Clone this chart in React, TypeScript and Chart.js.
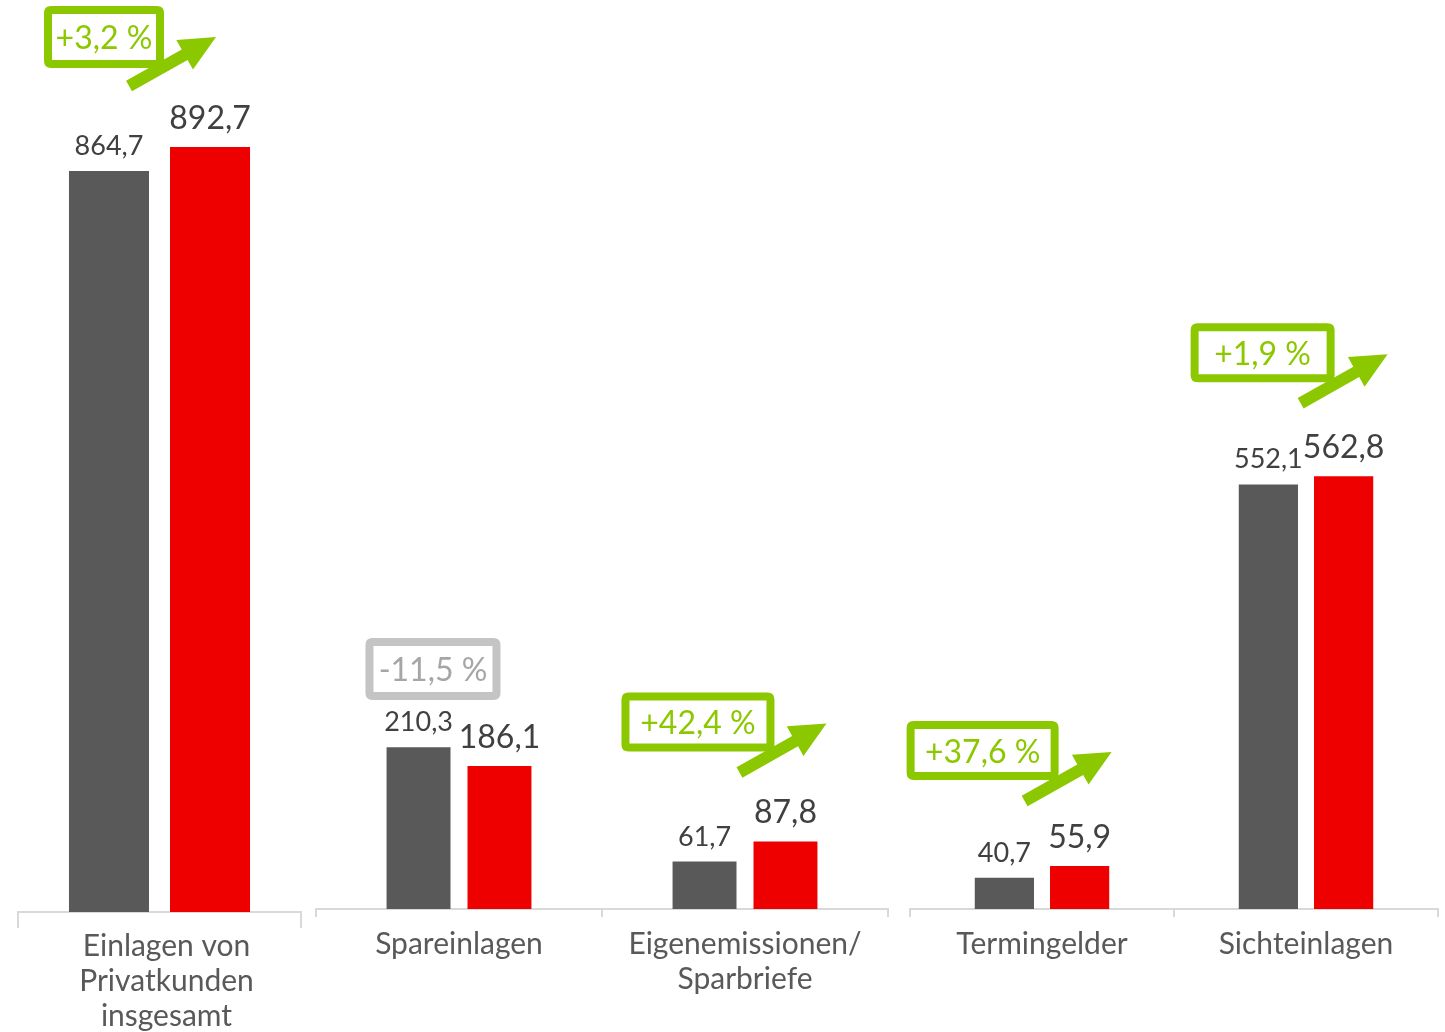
import React, { useEffect, useRef } from "react";
import { Chart, registerables } from "chart.js";

Chart.register(...registerables);

// ---------- data ----------
const categoryLabels: string[][] = [
  ["Einlagen von", "Privatkunden", "insgesamt"],
  ["Spareinlagen"],
  ["Eigenemissionen/", "Sparbriefe"],
  ["Termingelder"],
  ["Sichteinlagen"],
];
const previousValues = [864.7, 210.3, 61.7, 40.7, 552.1];
const currentValues = [892.7, 186.1, 87.8, 55.9, 562.8];
const changeLabels = ["+3,2 %", "-11,5 %", "+42,4 %", "+37,6 %", "+1,9 %"];
const changeIsUp = [true, false, true, true, true];

// ---------- styles / layout ----------
const FONT = "Lato, 'Noto Sans', sans-serif";
const GREY = "#595959";
const RED = "#EE0000";
const GREEN = "#8CC800";
const BOX_GREY = "#C4C4C4";
const BOX_GREY_TEXT = "#A6A6A6";
const TEXT = "#404040";
const LABEL = "#595959";
const AXIS = "#D9D9D9";

// annotation layout relative to the red bar's top-center (box x/y offsets, size, arrow tail offset)
const annotationLayout = [
  { bx: -166, by: -141, w: 120, h: 62, ax: -81, ay: -61 },
  { bx: -134, by: -128, w: 135, h: 62, ax: 0, ay: 0 },
  { bx: -164, by: -149, w: 153, h: 59, ax: -46, ay: -69 },
  { bx: -173, by: -145, w: 152, h: 59, ax: -55, ay: -65 },
  { bx: -153, by: -153, w: 144, h: 59, ax: -43, ay: -73 },
];

const panels = [
  { idx: [0], left: 0, width: 320, padL: 18, padR: 19, padT: 20, bottom: 912, yMax: 1041, cp: 0.714, bp: 0.792, tickLen: 16, tickPad: 1, labelOffset: 7 },
  { idx: [1, 2], left: 300, width: 600, padL: 16, padR: 12, padT: 20, bottom: 909, yMax: 1156, cp: 0.566, bp: 0.79, tickLen: 8, tickPad: 10, labelOffset: 0 },
  { idx: [3, 4], left: 895, width: 550, padL: 15, padR: 7, padT: 20, bottom: 909, yMax: 1156, cp: 0.57, bp: 0.787, tickLen: 8, tickPad: 10, labelOffset: 0 },
];

const H = 1032;
const fmt = (v: number) => v.toFixed(1).replace(".", ",");

function roundRect(ctx: CanvasRenderingContext2D, x: number, y: number, w: number, h: number, r: number) {
  ctx.beginPath();
  ctx.moveTo(x + r, y);
  ctx.lineTo(x + w - r, y);
  ctx.quadraticCurveTo(x + w, y, x + w, y + r);
  ctx.lineTo(x + w, y + h - r);
  ctx.quadraticCurveTo(x + w, y + h, x + w - r, y + h);
  ctx.lineTo(x + r, y + h);
  ctx.quadraticCurveTo(x, y + h, x, y + h - r);
  ctx.lineTo(x, y + r);
  ctx.quadraticCurveTo(x, y, x + r, y);
  ctx.closePath();
}

function drawArrow(ctx: CanvasRenderingContext2D, x0: number, y0: number, x1: number, y1: number) {
  const dx = x1 - x0, dy = y1 - y0;
  const len = Math.hypot(dx, dy);
  const ux = dx / len, uy = dy / len;
  const px = -uy, py = ux;
  const headLen = 36, headW = 34, shaftW = 12;
  const bx = x1 - ux * headLen, by = y1 - uy * headLen;
  ctx.beginPath();
  ctx.moveTo(x0 + px * shaftW / 2, y0 + py * shaftW / 2);
  ctx.lineTo(bx + px * shaftW / 2, by + py * shaftW / 2);
  ctx.lineTo(bx + px * headW / 2, by + py * headW / 2);
  ctx.lineTo(x1, y1);
  ctx.lineTo(bx - px * headW / 2, by - py * headW / 2);
  ctx.lineTo(bx - px * shaftW / 2, by - py * shaftW / 2);
  ctx.lineTo(x0 - px * shaftW / 2, y0 - py * shaftW / 2);
  ctx.closePath();
  ctx.fill();
}

const overlayPlugin = {
  id: "overlay",
  afterDatasetsDraw(chart: any) {
    const ctx: CanvasRenderingContext2D = chart.ctx;
    const idx: number[] = chart.options.plugins.overlay.idx;
    const m0 = chart.getDatasetMeta(0);
    const m1 = chart.getDatasetMeta(1);
    ctx.save();
    ctx.textAlign = "center";
    ctx.textBaseline = "alphabetic";
    idx.forEach((gi, j) => {
      const g = m0.data[j];
      const r = m1.data[j];
      ctx.fillStyle = TEXT;
      ctx.font = `27px ${FONT}`;
      ctx.fillText(fmt(previousValues[gi]), g.x, g.y - 16);
      ctx.font = `32px ${FONT}`;
      ctx.fillText(fmt(currentValues[gi]), r.x, r.y - 18);

      const L = annotationLayout[gi];
      const up = changeIsUp[gi];
      const col = up ? GREEN : BOX_GREY;
      const bx = r.x + L.bx, by = r.y + L.by;
      ctx.strokeStyle = col;
      ctx.lineWidth = 8;
      ctx.lineJoin = "round";
      roundRect(ctx, bx + 4, by + 4, L.w - 8, L.h - 8, 3);
      ctx.stroke();
      ctx.fillStyle = up ? GREEN : BOX_GREY_TEXT;
      ctx.font = `32px ${FONT}`;
      ctx.textBaseline = "middle";
      ctx.fillText(changeLabels[gi], bx + L.w / 2, by + L.h / 2 + 2);
      ctx.textBaseline = "alphabetic";
      if (up) {
        ctx.fillStyle = GREEN;
        const tx = r.x + L.ax, ty = r.y + L.ay;
        drawArrow(ctx, tx, ty, tx + 87, ty - 49);
      }
    });
    ctx.restore();
  },
};

function Panel({ p }: { p: (typeof panels)[number] }) {
  const ref = useRef<HTMLCanvasElement | null>(null);
  useEffect(() => {
    if (!ref.current) return;
    const axisH = H - p.bottom;
    const chart = new Chart(ref.current, {
      type: "bar",
      data: {
        labels: p.idx.map((i) => categoryLabels[i]),
        datasets: [
          { data: p.idx.map((i) => previousValues[i]), backgroundColor: GREY },
          { data: p.idx.map((i) => currentValues[i]), backgroundColor: RED },
        ],
      },
      options: {
        responsive: false,
        animation: false,
        layout: { padding: { left: p.padL, right: p.padR, top: p.padT, bottom: 0 } },
        datasets: { bar: { categoryPercentage: p.cp, barPercentage: p.bp } },
        plugins: {
          legend: { display: false },
          tooltip: { enabled: false },
          overlay: { idx: p.idx },
        } as any,
        scales: {
          x: {
            grid: { display: true, drawOnChartArea: false, drawTicks: true, tickLength: p.tickLen, color: AXIS, lineWidth: 2, offset: true },
            border: { display: true, color: AXIS, width: 2 },
            ticks: {
              color: LABEL,
              font: { family: FONT, size: 30, lineHeight: 1.167 },
              padding: p.tickPad,
              labelOffset: p.labelOffset,
              maxRotation: 0,
              minRotation: 0,
              autoSkip: false,
            },
            afterFit: (s: any) => {
              s.height = axisH;
            },
          },
          y: { display: false, min: 0, max: p.yMax },
        },
      },
      plugins: [overlayPlugin],
    });
    return () => chart.destroy();
  }, []);
  return (
    <canvas
      ref={ref}
      width={p.width}
      height={H}
      style={{ position: "absolute", left: p.left, top: 0, width: p.width, height: H }}
    />
  );
}

export default function App() {
  return (
    <div style={{ position: "absolute", left: 0, top: 0, width: 1445, height: H, background: "#fff", overflow: "hidden" }}>
      {panels.map((p, i) => (
        <Panel key={i} p={p} />
      ))}
    </div>
  );
}
